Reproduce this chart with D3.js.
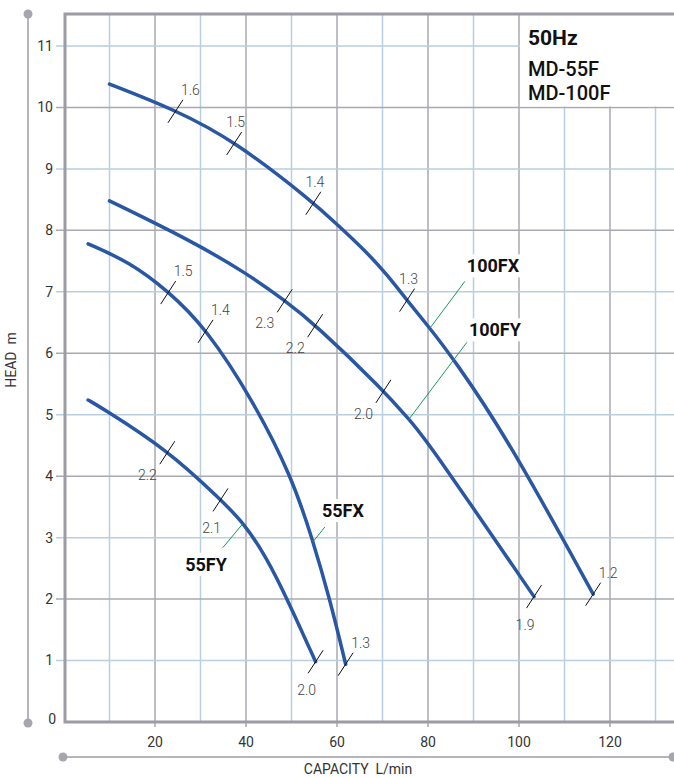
<!DOCTYPE html>
<html lang="en">
<head>
  <meta charset="UTF-8">
  <title>MD-55F / MD-100F performance curves</title>
  <script src="https://d3js.org/d3.v7.min.js"></script>
  <style>
    body { margin: 0; background: #fff; font-family: Roboto, "Liberation Sans", sans-serif; }
    .grid-major { stroke: #a9a9b1; stroke-width: 1.5; }
    .grid-minor { stroke: #b9cfe0; stroke-width: 1.5; }
    .frame { stroke: #9c9ca4; stroke-width: 3; fill: none; }
    .deco { stroke: #b4b4bc; stroke-width: 2; }
    .curve { fill: none; stroke: #2a57a4; stroke-width: 3.5; stroke-linecap: round; }
    .tick-mark { stroke: #111; stroke-width: 1; }
    .tick-num { font-size: 14px; fill: #444; font-weight: 300; }
    .leader { stroke: #17995a; stroke-width: 1; }
    .series-name { font-size: 18px; font-weight: 700; fill: #111; }
    .axis-num { font-size: 14px; fill: #333; }
    .axis-title { font-size: 14px; fill: #333; }
  </style>
</head>
<body>
  <svg width="674" height="778"></svg>

  <script>
    // Curve data: capacity (L/min) vs head (m)
    const curve100FX = [[10,10.38],[24.5,9.96],[37.4,9.46],[54.8,8.46],[60.7,8.05],[65.8,7.70],[70.9,7.29],[75.4,6.86],[80.4,6.41],[85.5,5.92],[97.4,4.63],[116.3,2.08]];
    const curve100FY = [[10,8.48],[27.7,7.84],[40.2,7.30],[48.5,6.86],[55.2,6.47],[70.2,5.40],[76,4.91],[79.8,4.58],[103.3,2.04]];
    const curve55FX  = [[5.3,7.78],[14.5,7.48],[22.9,7.01],[31.1,6.42],[41.5,5.24],[50.1,3.98],[54.5,3.0],[58.5,1.98],[61.9,0.94]];
    const curve55FY  = [[5.3,5.24],[7.9,5.13],[22.7,4.43],[34.4,3.62],[39.4,3.25],[44.5,2.68],[49.2,1.98],[55.3,0.98]];

    // Marks along each curve: capacity, value, label placement
    const marks100FX = [[24.5,"1.6","ar"],[37.4,"1.5","a"],[54.8,"1.4","a"],[75.4,"1.3","a"],[116.3,"1.2","ar"]];
    const marks100FY = [[48.5,"2.3","bl"],[55.2,"2.2","bl"],[70.2,"2.0","bl"],[103.3,"1.9","b"]];
    const marks55FX  = [[22.9,"1.5","ar"],[31.1,"1.4","ar"],[61.9,"1.3","ar"]];
    const marks55FY  = [[22.7,"2.2","bl"],[34.4,"2.1","b"],[55.3,"2.0","b"]];

    const xTicks = [20, 40, 60, 80, 100, 120];
    const yTicks = [0, 1, 2, 3, 4, 5, 6, 7, 8, 9, 10, 11];
    const titleLines = ["50Hz", "MD-55F", "MD-100F"];

    const W = 674;
    const plotLeft = 65, plotTop = 14, plotBottom = 722;

    const svg = d3.select("svg");

    const x = d3.scaleLinear().domain([0, 120]).range([64, 610]);
    const y = d3.scaleLinear().domain([0, 11]).range([722, 46]);

    // grid
    const grid = svg.append("g");
    d3.range(10, 140, 10).forEach(v => {
      grid.append("line")
        .attr("class", v % 20 === 0 ? "grid-major" : "grid-minor")
        .attr("x1", x(v)).attr("x2", x(v))
        .attr("y1", plotTop).attr("y2", v % 20 === 0 ? plotBottom + 5 : plotBottom);
    });
    yTicks.filter(v => v > 0).forEach(v => {
      grid.append("line")
        .attr("class", v % 2 === 0 ? "grid-major" : "grid-minor")
        .attr("x1", 56).attr("x2", W)
        .attr("y1", y(v)).attr("y2", y(v));
    });

    // white title box (capacity >= 100, head >= 10)
    svg.append("rect")
      .attr("x", x(100) + 1).attr("y", plotTop)
      .attr("width", W - x(100)).attr("height", y(10) - plotTop - 1)
      .attr("fill", "#fff");

    // frame
    svg.append("path")
      .attr("class", "frame")
      .attr("d", `M${W},${plotTop}H${plotLeft}V${plotBottom}H${W}`);

    // decorative axis lines with end dots
    svg.append("line").attr("class", "deco")
      .attr("x1", 28).attr("x2", 28).attr("y1", plotTop).attr("y2", plotBottom + 1);
    svg.append("line").attr("class", "deco")
      .attr("x1", 63).attr("x2", W - 1).attr("y1", 757).attr("y2", 757);
    [[28, plotTop], [28, plotBottom + 1], [63, 757], [W - 1, 757]].forEach(p => {
      svg.append("circle").attr("cx", p[0]).attr("cy", p[1]).attr("r", 4.5).attr("fill", "#a6a6ae");
    });

    // axis numbers
    svg.append("g").selectAll("text").data(yTicks).join("text")
      .attr("class", "axis-num")
      .attr("x", d => d === 0 ? 56 : 53)
      .attr("y", d => d === 0 ? y(d) - 3 : y(d))
      .attr("dy", "0.35em")
      .attr("text-anchor", "end")
      .text(d => d);
    svg.append("g").selectAll("text").data(xTicks).join("text")
      .attr("class", "axis-num")
      .attr("x", d => x(d))
      .attr("y", 742)
      .attr("dy", "0.35em")
      .attr("text-anchor", "middle")
      .text(d => d);

    svg.append("text").attr("class", "axis-title")
      .attr("x", 358).attr("y", 774).attr("text-anchor", "middle")
      .style("white-space", "pre")
      .text("CAPACITY  L/min");
    svg.append("text").attr("class", "axis-title")
      .attr("transform", "translate(16,360) rotate(-90)")
      .attr("text-anchor", "middle")
      .style("white-space", "pre")
      .text("HEAD  m");

    // title box text
    svg.append("g").selectAll("text").data(titleLines).join("text")
      .attr("x", 528)
      .attr("y", (d, i) => [45, 76, 100][i])
      .attr("font-size", (d, i) => i === 0 ? 21 : 20)
      .attr("font-weight", (d, i) => i === 0 ? 700 : 500)
      .attr("fill", "#111")
      .text(d => d);

    // curves (B-spline smooths out reading noise)
    const line = d3.line().x(d => x(d[0])).y(d => y(d[1])).curve(d3.curveBasis);
    const series = [
      { name: "100FX", pts: curve100FX, marks: marks100FX, at: 80.4, lead: [35, -47], txt: [2, -9, "start"] },
      { name: "100FY", pts: curve100FY, marks: marks100FY, at: 75.8, lead: [58, -77], txt: [2, -6, "start"] },
      { name: "55FX",  pts: curve55FX,  marks: marks55FX,  at: 54.7, lead: [12, -15], txt: [-3, -10, "start"] },
      { name: "55FY",  pts: curve55FY,  marks: marks55FY,  at: 39.3, lead: [-20, 24], txt: [4, 23, "end"] }
    ];

    // point on the drawn path at a given capacity
    function pointAt(path, cap) {
      const target = x(cap), node = path.node();
      let lo = 0, hi = node.getTotalLength();
      for (let i = 0; i < 40; i++) {
        const mid = (lo + hi) / 2;
        if (node.getPointAtLength(mid).x < target) lo = mid; else hi = mid;
      }
      return node.getPointAtLength((lo + hi) / 2);
    }

    const curveLayer = svg.append("g");
    const markLayer = svg.append("g");
    const labelLayer = svg.append("g");

    series.forEach(s => {
      const path = curveLayer.append("path").attr("class", "curve").attr("d", line(s.pts));

      s.marks.forEach(([cap, val, place]) => {
        const p = pointAt(path, cap);
        const hx = 7.5, hy = 11.5;
        markLayer.append("line").attr("class", "tick-mark")
          .attr("x1", p.x - hx).attr("y1", p.y + hy)
          .attr("x2", p.x + hx).attr("y2", p.y - hy);
        const t = markLayer.append("text").attr("class", "tick-num").text(val);
        if (place === "a") t.attr("x", p.x + hx - 6).attr("y", p.y - hy - 5).attr("text-anchor", "middle");
        if (place === "ar") t.attr("x", p.x + hx - 2).attr("y", p.y - hy - 5).attr("text-anchor", "start");
        if (place === "bl") t.attr("x", p.x - hx - 3).attr("y", p.y + hy + 16).attr("text-anchor", "end");
        if (place === "b") t.attr("x", p.x - hx + 8).attr("y", p.y + hy + 22).attr("text-anchor", "end");
      });

      // leader + series name
      const p = pointAt(path, s.at);
      const ex = p.x + s.lead[0], ey = p.y + s.lead[1];
      const txt = labelLayer.append("text").attr("class", "series-name")
        .attr("x", ex + s.txt[0]).attr("y", ey + s.txt[1])
        .attr("text-anchor", s.txt[2]).text(s.name);
      const bb = txt.node().getBBox();
      labelLayer.insert("rect", "text")
        .attr("x", bb.x - 3).attr("y", bb.y - 1)
        .attr("width", bb.width + 6).attr("height", bb.height + 2)
        .attr("fill", "#fff");
      labelLayer.append("line").attr("class", "leader")
        .attr("x1", p.x).attr("y1", p.y).attr("x2", ex).attr("y2", ey);
    });
  </script>
</body>
</html>
